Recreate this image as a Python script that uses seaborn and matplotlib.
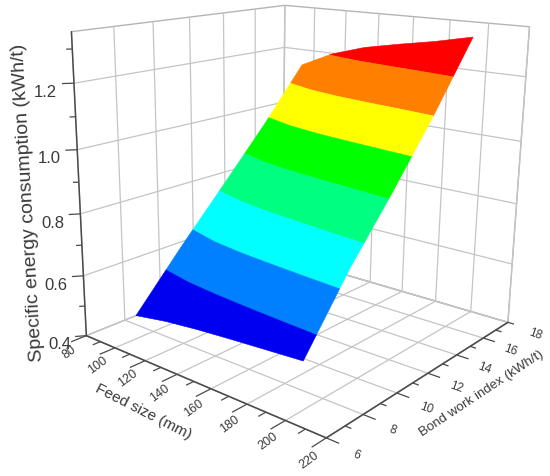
import numpy as np
import seaborn as sns
import matplotlib.pyplot as plt
from mpl_toolkits.mplot3d import proj3d
from mpl_toolkits.mplot3d.art3d import Line3DCollection, Poly3DCollection

# values
feed_size = [108, 127, 146, 165, 184, 203.5]
bond_index = [6.5, 8.95, 11.4, 13.85, 16.3]
energy = [
    [0.51, 0.528, 0.54, 0.549, 0.557, 0.565],
    [0.678, 0.708, 0.727, 0.741, 0.754, 0.766],
    [0.838, 0.872, 0.894, 0.91, 0.925, 0.94],
    [1.0, 1.041, 1.069, 1.089, 1.106, 1.125],
    [1.175, 1.225, 1.258, 1.28, 1.30, 1.325],
]

band_levels = [0.50, 0.62, 0.72, 0.82, 0.92, 1.02, 1.12, 1.22, 1.33]
band_colors = ["#0000f0", "#0080ff", "#00ffff", "#00ff80", "#00ff00", "#ffff00", "#ff8000", "#ff0000"]

feed_ticks = [80, 100, 120, 140, 160, 180, 200, 220]
feed_minor = [90, 110, 130, 150, 170, 190, 210]
bond_ticks = [6, 8, 10, 12, 14, 16, 18]
bond_minor = [7, 9, 11, 13, 15, 17]
z_ticks = [0.4, 0.6, 0.8, 1.0, 1.2]
z_minor = [0.5, 0.7, 0.9, 1.1, 1.3]
z_labels = ["0.4", "0.6", "0.8", "1.0", "1.2"]

feed_lim = (80, 220)
bond_lim = (6, 18)
z_lim = (0.4, 1.35)

# where the corners of the box sit in the picture: (u, v, w) in 0..1 box units, pixel x, pixel y
box_corners = [
    (0, 0, 0, 88.7, 337.7),
    (0, 0, 1, 70, 31.7),
    (1, 0, 0, 325, 438.7),
    (1, 1, 0, 510, 323),
    (1, 1, 1, 528.3, 28.3),
    (0, 1, 0, 280, 257),
    (0, 1, 1, 287, 6.7),
]

sns.set_theme(style="white")
plt.rcParams["font.family"] = ["Liberation Sans", "DejaVu Sans"]
TXT = "#3a3a3a"
AXC = "#4a4a4a"
tab = np.array(energy)


def surface_height(f, b):
    col = [np.interp(f, feed_size, row) for row in tab]
    return np.interp(b, bond_index, col)


# contour the table on a flat helper axes, then lift each band onto the surface
F, B = np.meshgrid(np.linspace(feed_size[0], feed_size[-1], 90),
                   np.linspace(bond_index[0], bond_index[-1], 90))
Z = np.array([[surface_height(f, b) for f, b in zip(fr, br)] for fr, br in zip(F, B)])
flat_fig, flat_ax = plt.subplots()
bands = flat_ax.contourf(F, B, Z, levels=band_levels)
band_polys = []
for path in bands.get_paths():
    polys = []
    for poly in path.to_polygons(closed_only=True):
        polys.append([(f, b, surface_height(f, b)) for f, b in poly])
    band_polys.append(polys)
plt.close(flat_fig)

fig = plt.figure(figsize=(5.5, 4.77), dpi=100)
ax = fig.add_axes([0, 0, 1, 1], projection="3d")
ax.patch.set_alpha(0)
ax.view_init(elev=24, azim=-52)
ax.set_xlim(*feed_lim)
ax.set_ylim(*bond_lim)
ax.set_zlim(*z_lim)
fig.canvas.draw()


def fit_projection():
    # the original's camera is off axis, view_init cannot do that, so fit the matrix to the box
    inv = ax.transData.inverted()
    rows, rhs = [], []
    for a, b, c, px, py in box_corners:
        u, v = inv.transform((px, 477 - py))
        rows.append([a, b, c, 1, 0, 0, 0, 0, -u * a, -u * b, -u * c])
        rows.append([0, 0, 0, 0, a, b, c, 1, -v * a, -v * b, -v * c])
        rhs += [u, v]
    p = np.linalg.lstsq(np.array(rows), np.array(rhs), rcond=None)[0]
    m = np.array([
        [p[0], p[1], p[2], p[3]],
        [p[4], p[5], p[6], p[7]],
        [-1.0, 1.0, -0.3, 2.0],
        [p[8], p[9], p[10], 1.0],
    ])
    to_box = np.array([
        [1 / (feed_lim[1] - feed_lim[0]), 0, 0, -feed_lim[0] / (feed_lim[1] - feed_lim[0])],
        [0, 1 / (bond_lim[1] - bond_lim[0]), 0, -bond_lim[0] / (bond_lim[1] - bond_lim[0])],
        [0, 0, 1 / (z_lim[1] - z_lim[0]), -z_lim[0] / (z_lim[1] - z_lim[0])],
        [0, 0, 0, 1],
    ])
    return m @ to_box


proj_matrix = fit_projection()
ax.get_proj = lambda: proj_matrix

palette = sns.color_palette(band_colors)
for polys, color in zip(band_polys, palette):
    ax.add_collection3d(Poly3DCollection(polys, facecolor=color, edgecolor=color, linewidths=0.4),
                        autolim=False)

# tick marks by hand, mplot3d has no separate length for minor ticks
tick_segs = []
for vals, ln in ((feed_ticks, 0.75), (feed_minor, 0.38)):
    for v in vals:
        tick_segs.append([(v, bond_lim[0], z_lim[0]), (v, bond_lim[0] - ln, z_lim[0])])
for vals, ln in ((bond_ticks, 6.0), (bond_minor, 3.0)):
    for v in vals:
        tick_segs.append([(feed_lim[1], v, z_lim[0]), (feed_lim[1] + ln, v, z_lim[0])])
for vals, ln in ((z_ticks, 1.0), (z_minor, 0.5)):
    for v in vals:
        tick_segs.append([(feed_lim[0], bond_lim[0], v),
                          (feed_lim[0] - 3.2 * ln, bond_lim[0] - 0.34 * ln, v)])
ax.add_collection3d(Line3DCollection(tick_segs, colors=AXC, linewidths=0.9), autolim=False)

ax.set_xlim(*feed_lim)
ax.set_ylim(*bond_lim)
ax.set_zlim(*z_lim)
ax.set_xticks(feed_ticks)
ax.set_yticks(bond_ticks)
ax.set_zticks(z_ticks, labels=z_labels)
ax.xaxis.set_tick_params(label1On=False)
ax.yaxis.set_tick_params(label1On=False)

ax.zaxis._axinfo["juggled"] = (1, 2, 0)
for axis in (ax.xaxis, ax.yaxis, ax.zaxis):
    axis.pane.set_facecolor("white")
    axis.pane.set_edgecolor("#6a6a6a")
    axis.pane.set_linewidth(1.0)
    axis.line.set_color(AXC)
    axis.line.set_linewidth(1.1)
    axis._axinfo["tick"]["inward_factor"] = 0
    axis._axinfo["tick"]["outward_factor"] = 0
    axis._axinfo["grid"]["color"] = "#c4c4c4"
    axis._axinfo["grid"]["linewidth"] = 0.9

ax.tick_params(axis="z", labelsize=12, labelcolor=TXT, pad=3)


def tick_text(x, y, z, s, **kw):
    # plain 2D text at the projected spot, Text3D would drop the rotation
    u, v, _ = proj3d.proj_transform(x, y, z, proj_matrix)
    ax.text2D(u, v, s, transform=ax.transData, color=TXT, ha="center", va="center",
              rotation_mode="anchor", **kw)


for v in feed_ticks:
    tick_text(v, bond_lim[0] - 0.85, z_lim[0] - 0.03, str(v), fontsize=9, rotation=36)
for v in bond_ticks:
    tick_text(feed_lim[1] + 14, v, z_lim[0] - 0.01, str(v), fontsize=8.5, rotation=-20)

fig.text(143 / 550, 1 - 412 / 477, "Feed size (mm)", fontsize=11, color=TXT,
         rotation=-27, ha="center", va="center", rotation_mode="anchor")
fig.text(482 / 550, 1 - 394 / 477, "Bond work index (kWh/t)", fontsize=9.6, color=TXT,
         rotation=33.5, ha="center", va="center", rotation_mode="anchor")
fig.text(28 / 550, 1 - 203 / 477, "Specific energy consumption (kWh/t)", fontsize=14, color=TXT,
         rotation=93.4, ha="center", va="center", rotation_mode="anchor")

fig.savefig("out.png", dpi=100)
